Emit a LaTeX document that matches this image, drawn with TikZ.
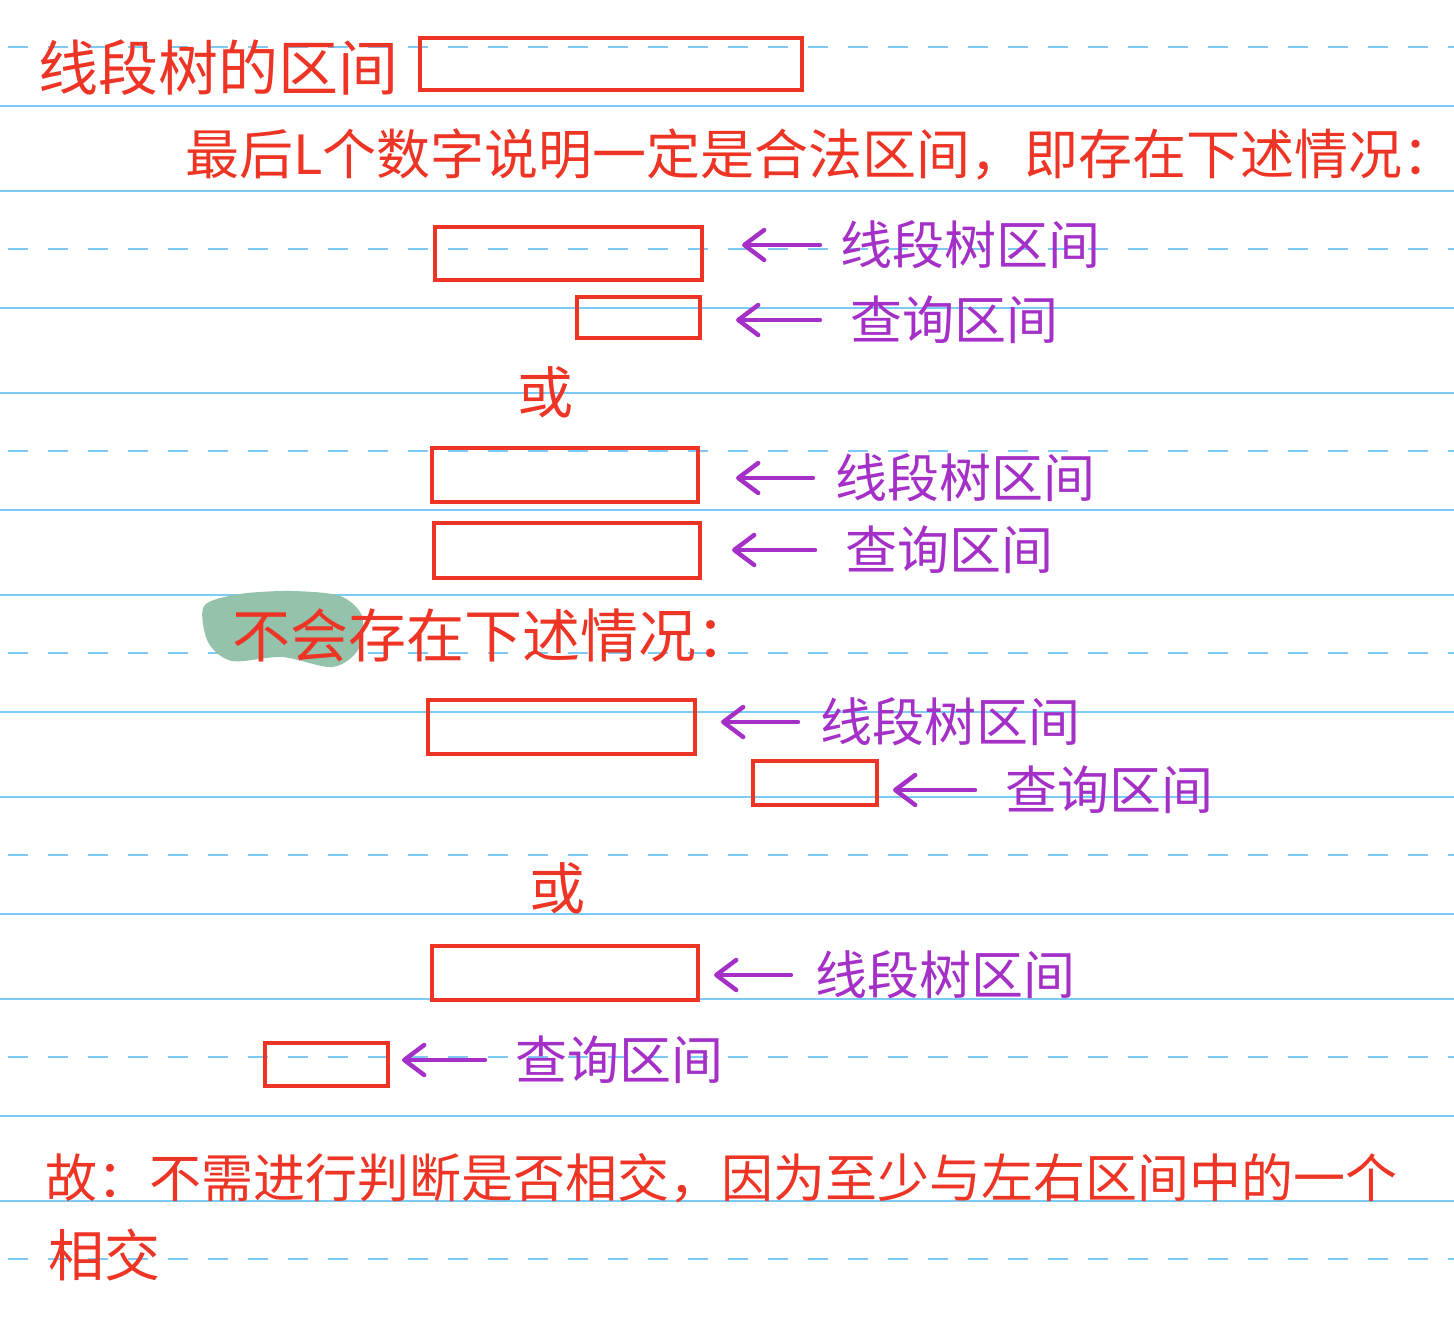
\documentclass[tikz,border=0pt]{standalone}
\usepackage{fontspec}
\usepackage{tikz}
\usetikzlibrary{arrows.meta}
\newfontfamily\cjk{Noto Sans CJK SC}

\definecolor{inkred}{RGB}{238,52,36}
\definecolor{inkpurple}{RGB}{164,48,200}
\definecolor{rule}{RGB}{125,202,245}
\definecolor{marker}{RGB}{148,194,170}

\tikzset{
	box/.style={draw=inkred, line width=2pt, inner sep=0pt},
	note/.style={inkred, anchor=west, inner sep=0pt, font=\cjk\fontsize{26}{30}\selectfont},
	tag/.style={inkpurple, anchor=west, inner sep=0pt, font=\cjk\fontsize{26}{30}\selectfont},
	pointer/.style={draw=inkpurple, line width=2.2pt, line cap=round,
		-{Straight Barb[length=10pt, width=15pt, round]}},
}

\begin{document}
\begin{tikzpicture}[x=0.5pt, y=-0.5pt]
	\useasboundingbox (0,0) rectangle (1454,1316);
	\fill[white] (0,0) rectangle (1454,1316);
	
	% notebook rules
	\foreach \k in {0,...,6} {
		\draw[rule, line width=1pt, dash pattern=on 10pt off 10pt] (8,47+202*\k) -- (1454,47+202*\k);
	}
	\foreach \k in {0,...,5} {
		\draw[rule, line width=0.9pt] (0,106+202*\k) -- (1454,106+202*\k);
		\draw[rule, line width=0.9pt] (0,191+202*\k) -- (1454,191+202*\k);
	}
	
	% heading
	\node[note, font=\cjk\fontsize{30}{34}\selectfont] (title) at (38,68) {线段树的区间};
	\node[box, minimum width=191pt, minimum height=26pt] (recT) at (611,64) {};
	\node[note, font=\cjk\fontsize{27}{31}\selectfont] (intro) at (185,155) {最后L个数字说明一定是合法区间，即存在下述情况：};
	
	% case A
	\node[box, minimum width=133.5pt, minimum height=26.5pt] (recA1) at (568.5,253.5) {};
	\node[box, minimum width=61.5pt, minimum height=20.5pt] (recA2) at (638.5,317.5) {};
	\node[tag] (labA1) at (840,245) {线段树区间};
	\node[tag] (labA2) at (850,320) {查询区间};
	\draw[pointer, shorten <=10pt, shorten >=19pt] (labA1.west) -- (labA1.west -| recA1.east);
	\draw[pointer, shorten <=15pt, shorten >=17pt] (labA2.west) -- (labA2.west -| recA2.east);
	
	\node[note, anchor=center, font=\cjk\fontsize{28}{32}\selectfont] (orA) at (545,392) {或};
	
	% case B
	\node[box, minimum width=133pt, minimum height=27pt] (recB1) at (565,475) {};
	\node[box, minimum width=133pt, minimum height=27.5pt] (recB2) at (567,550.5) {};
	\node[tag] (labB1) at (835,478) {线段树区间};
	\node[tag] (labB2) at (845,550) {查询区间};
	\draw[pointer, shorten <=11pt, shorten >=18pt] (labB1.west) -- (labB1.west -| recB1.east);
	\draw[pointer, shorten <=15pt, shorten >=15pt] (labB2.west) -- (labB2.west -| recB2.east);
	
	% excluded cases
	\fill[marker] plot[smooth cycle] coordinates {(204,606) (240,594) (292,591) (340,596) (362,616) (358,650) (332,667) (282,657) (232,661) (208,642)};
	\node[note, font=\cjk\fontsize{29}{33}\selectfont] (never) at (232,635) {不会存在下述情况：};
	
	% case C
	\node[box, minimum width=133.5pt, minimum height=27pt] (recC1) at (561.5,727) {};
	\node[box, minimum width=62pt, minimum height=22pt] (recC2) at (815,783) {};
	\node[tag] (labC1) at (820,722) {线段树区间};
	\node[tag] (labC2) at (1005,790) {查询区间};
	\draw[pointer, shorten <=11pt, shorten >=12pt] (labC1.west) -- (labC1.west -| recC1.east);
	\draw[pointer, shorten <=15pt, shorten >=7pt] (labC2.west) -- (labC2.west -| recC2.east);
	
	\node[note, anchor=center, font=\cjk\fontsize{28}{32}\selectfont] (orC) at (557,888) {或};
	
	% case D
	\node[box, minimum width=133pt, minimum height=27pt] (recD1) at (565,973) {};
	\node[box, minimum width=61.5pt, minimum height=21.5pt] (recD2) at (326.5,1064.5) {};
	\node[tag] (labD1) at (815,975) {线段树区间};
	\node[tag] (labD2) at (515,1060) {查询区间};
	\draw[pointer, shorten <=12pt, shorten >=7pt] (labD1.west) -- (labD1.west -| recD1.east);
	\draw[pointer, shorten <=15pt, shorten >=6pt] (labD2.west) -- (labD2.west -| recD2.east);
	
	% conclusion
	\node[note] (concl) at (45,1178) {故：不需进行判断是否相交，因为至少与左右区间中的一个};
	\node[note, font=\cjk\fontsize{28}{32}\selectfont] (conclB) at (48,1255) {相交};
\end{tikzpicture}
\end{document}
